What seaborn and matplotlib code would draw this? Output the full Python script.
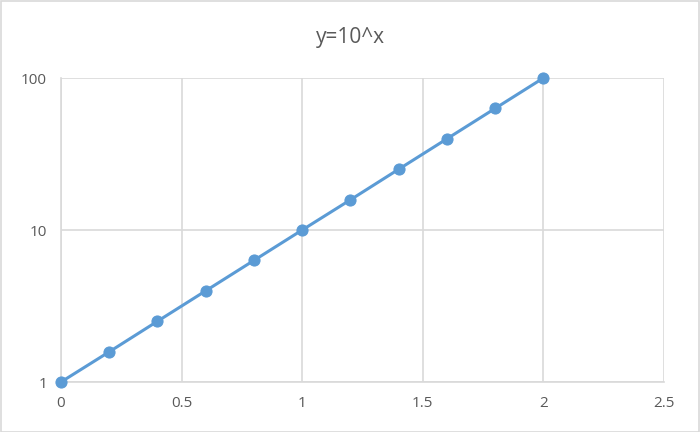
import matplotlib
matplotlib.use("Agg")
import matplotlib.pyplot as plt
import matplotlib.ticker as mticker
from matplotlib.patches import Rectangle
import seaborn as sns
import pandas as pd

# 데이터
x_vals = [0, 0.2, 0.4, 0.6, 0.8, 1.0, 1.2, 1.4, 1.6, 1.8, 2.0]
y_vals = [1, 1.58, 2.51, 3.98, 6.31, 10, 15.8, 25.1, 39.8, 63.1, 100]
x_ticks = [0, 0.5, 1, 1.5, 2, 2.5]
x_labels = ["0", "0.5", "1", "1.5", "2", "2.5"]
y_ticks = [1, 10, 100]
y_labels = ["1", "10", "100"]

df = pd.DataFrame({"x": x_vals, "y": y_vals})

sns.set_style("white")
plt.rcParams['font.family'] = ['Open Sans', 'DejaVu Sans']

grid_c = "#d9d9d9"
text_c = "#595959"
blue = "#5b9bd5"

fig = plt.figure(figsize=(7, 4.32), dpi=100)
ax = fig.add_axes([61 / 700, 1 - 382 / 432, (664 - 61) / 700, (382 - 78) / 432])

sns.lineplot(data=df, x="x", y="y", ax=ax, color=blue, linewidth=2.2,
             marker="o", markersize=8, markeredgecolor=blue, clip_on=False, zorder=3)

ax.set_yscale("log")
ax.set_xlim(0, 2.5)
ax.set_ylim(1, 100)
ax.set_xticks(x_ticks)
ax.set_xticklabels(x_labels)
ax.set_yticks(y_ticks)
ax.set_yticklabels(y_labels)
ax.yaxis.set_minor_locator(mticker.NullLocator())
ax.grid(True, color=grid_c, linewidth=1.2)
ax.set_axisbelow(True)
ax.set_xlabel("")
ax.set_ylabel("")
for side in ["right", "top"]:
    ax.spines[side].set_visible(False)
for side in ["left", "bottom"]:
    ax.spines[side].set_color(grid_c)
    ax.spines[side].set_linewidth(1.2)
ax.tick_params(length=0, colors=text_c, labelsize=11, pad=10)

fig.text(0.5, 1 - 38 / 432, "y=10^x", ha="center", va="center", fontsize=15, color=text_c)

fig.patches.append(Rectangle((0.5 / 700, 0.5 / 432), 698.5 / 700, 430.5 / 432,
                             transform=fig.transFigure, fill=False,
                             edgecolor=grid_c, linewidth=1.2))

fig.savefig("out.png", dpi=100)
